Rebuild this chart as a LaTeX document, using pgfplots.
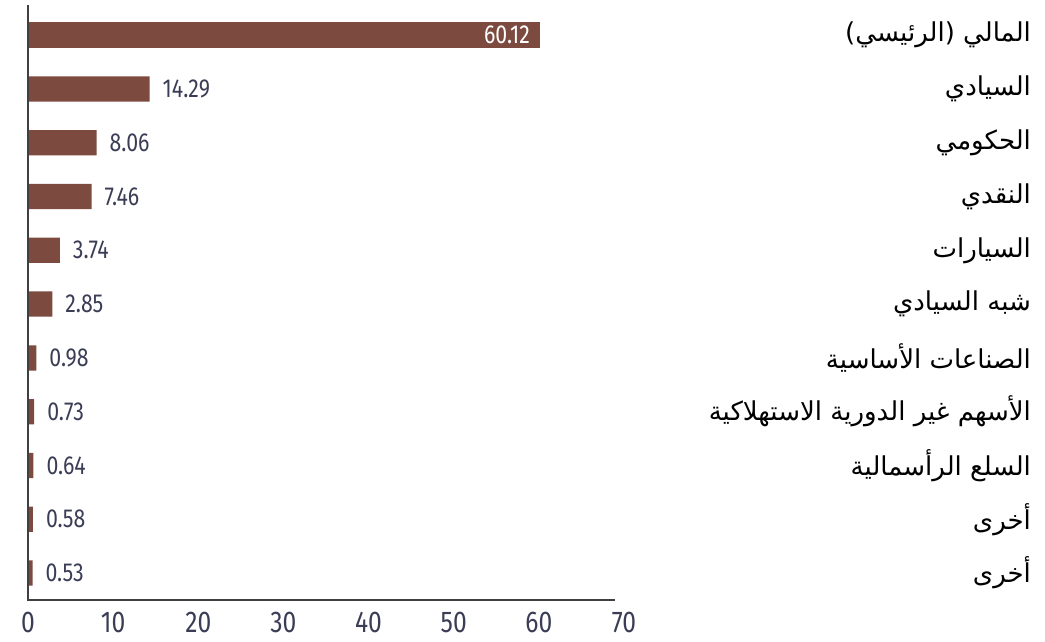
\documentclass[border=0pt]{standalone}
\usepackage{fontspec}
\usepackage{pgfplots}
\pgfplotsset{compat=1.18}
\TeXXeTstate=1
\newfontfamily\arabicfont[Script=Arabic]{DejaVu Sans}
\newfontfamily\condfont[FakeStretch=0.82]{Fira Sans}
\definecolor{barc}{HTML}{7D4A40}
\definecolor{numc}{HTML}{3A3D55}
\begin{document}
\begin{tikzpicture}[x=1pt,y=1pt]
\useasboundingbox (-14,-21) rectangle (508.5,300);
\begin{axis}[
  at={(0,0)}, anchor=south west,
  scale only axis, width=298pt, height=297.5pt,
  xbar, bar width=0.47, bar shift=0pt,
  xmin=0, xmax=70, ymin=-0.5, ymax=10.56,
  xtick={0,10,...,70},
  ytick={0,...,10},
  yticklabels={
    {\arabicfont\beginR أخرى\endR},
    {\arabicfont\beginR أخرى\endR},
    {\arabicfont\beginR السلع الرأسمالية\endR},
    {\arabicfont\beginR الأسهم غير الدورية الاستهلاكية\endR},
    {\arabicfont\beginR الصناعات الأساسية\endR},
    {\arabicfont\beginR شبه السيادي\endR},
    {\arabicfont\beginR السيارات\endR},
    {\arabicfont\beginR النقدي\endR},
    {\arabicfont\beginR الحكومي\endR},
    {\arabicfont\beginR السيادي\endR},
    {\arabicfont\beginR المالي (الرئيسي)\endR}},
  yticklabel pos=right,
  yticklabel style={anchor=east, xshift=207pt, font=\fontsize{13}{15}\selectfont, text=black},
  xticklabel style={font=\condfont\fontsize{15}{17}\selectfont, text=numc, yshift=-2.5pt},
  major tick length=0pt,
  axis line style={draw=none},
  /pgf/number format/assume math mode=true,
  clip=false,
  point meta=x,
  nodes near coords={\pgfmathprintnumber[fixed,fixed zerofill,precision=2]{\pgfplotspointmeta}},
  every node near coord/.append style={font=\condfont\fontsize{13}{15}\selectfont, text=numc, anchor=west, xshift=3pt},
]
\addplot[fill=barc, draw=none] coordinates {
(14.29,9) (8.06,8) (7.46,7) (3.74,6) (2.85,5) (0.98,4) (0.73,3) (0.64,2) (0.58,1) (0.53,0)
};
\addplot[fill=barc, draw=none, every node near coord/.append style={anchor=east, xshift=-4.5pt, text=white}] coordinates {
(60.12,10)
};
\draw[black!75, line width=1.2pt] (axis cs:0,10.56) -- (axis cs:0,-0.5) -- (axis cs:69,-0.5);
\end{axis}
\end{tikzpicture}
\end{document}
